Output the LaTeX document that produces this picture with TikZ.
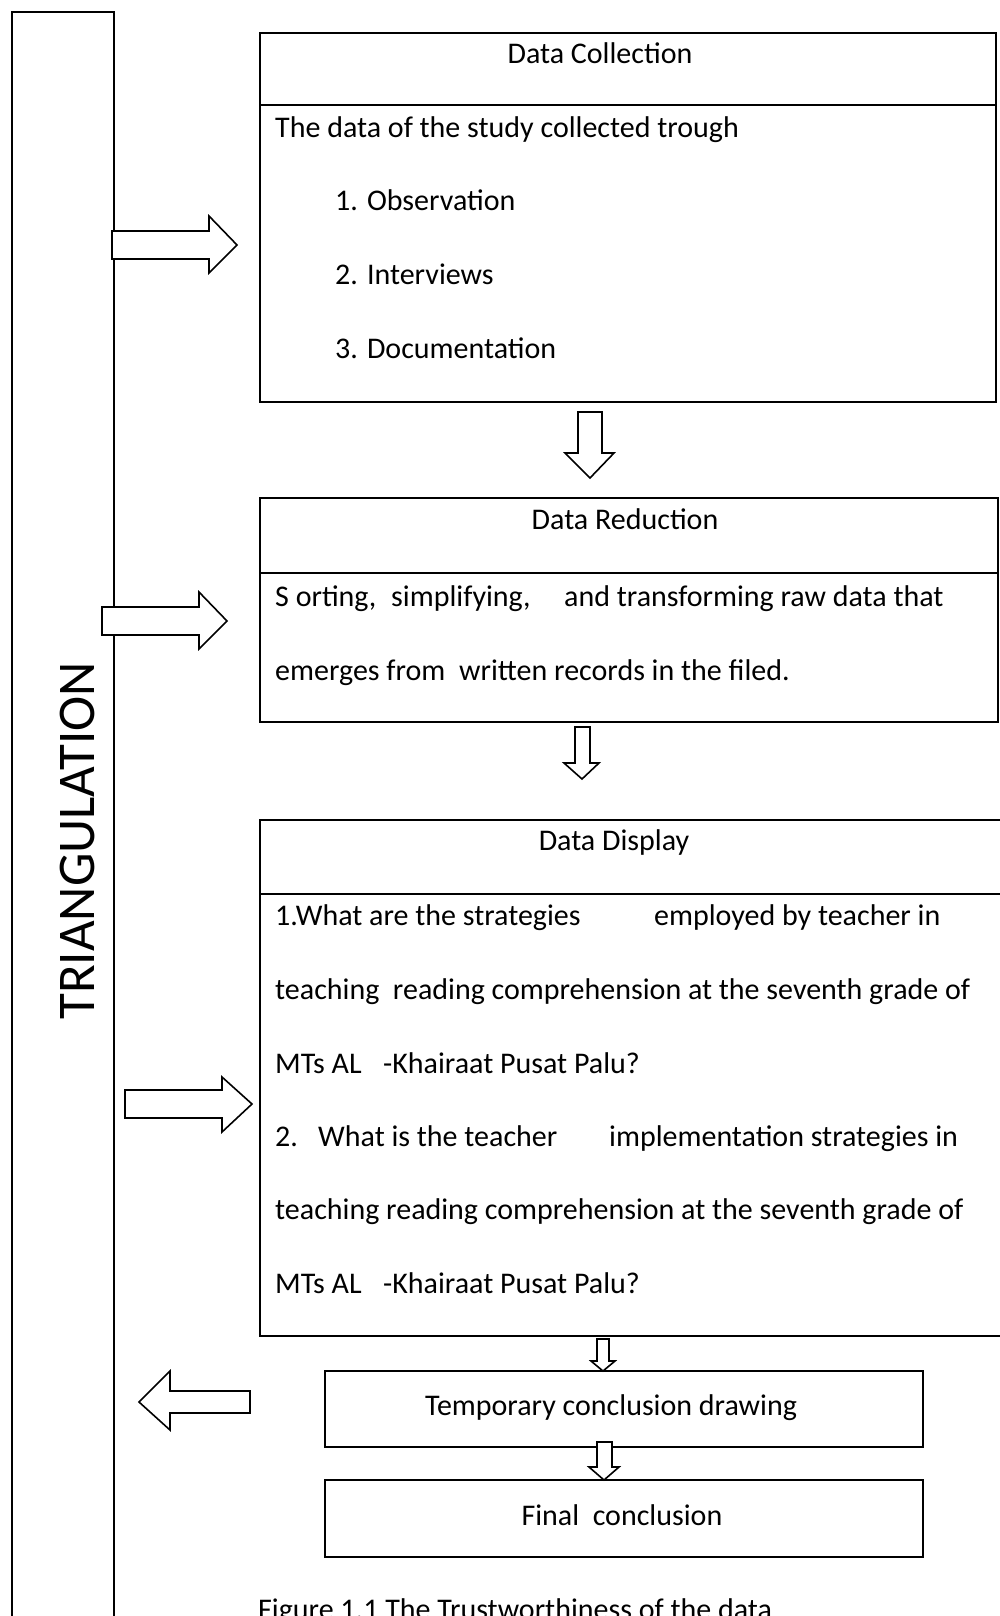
\documentclass[tikz,border=0pt]{standalone}
\usepackage{fontspec}
\setmainfont{Carlito}
\begin{document}
\begin{tikzpicture}[x=1pt,y=-1pt,
  box/.style={draw=black,line width=2pt},
  barrow/.style={draw=black,fill=white,line width=1.6pt,line join=miter},
  txt/.style={inner sep=0pt,anchor=mid west,font=\fontsize{30}{36}\selectfont},
  ctxt/.style={inner sep=0pt,anchor=mid,font=\fontsize{30}{36}\selectfont}]
\useasboundingbox (0,0) rectangle (1000,1616);
\fill[white] (0,0) rectangle (1000,1616);
% triangulation column
\draw[box] (12,1640) -- (12,12) -- (114,12) -- (114,1640);
\node[inner sep=0pt,rotate=90,font=\fontsize{53}{60}\selectfont] (tri) at (77,841) {TRIANGULATION};
% Data collection
\draw[box] (260,33) rectangle (996,402);
\draw[box] (260,105) -- (996,105);
\node[ctxt] (dc) at (600,61) {Data Collection};
\node[txt] (dc1) at (275,135) {The data of the study collected trough};
\node[txt] (dc2) at (335,208) {1. Observation};
\node[txt] (dc3) at (335,282) {2. Interviews};
\node[txt] (dc4) at (335,356) {3. Documentation};
% Data reduction
\draw[box] (260,498) rectangle (998,722);
\draw[box] (260,573) -- (998,573);
\node[ctxt] (dr) at (625,527) {Data Reduction};
\node[txt] (dr1a) at (275,604) {S orting,};
\node[txt] (dr1b) at (391,604) {simplifying,};
\node[txt] (dr1c) at (564,604) {and transforming raw data that};
\node[txt] (dr2a) at (275,678) {emerges from};
\node[txt] (dr2b) at (459,678) {written records in the filed.};
% Data display
\draw[box] (260,820) rectangle (1004,1336);
\draw[box] (260,894) -- (1004,894);
\node[ctxt] (dd) at (614,848) {Data Display};
\node[txt] (dd1a) at (275,923) {1.What are the strategies};
\node[txt] (dd1b) at (654,923) {employed by teacher in};
\node[txt] (dd2) at (275,997) {teaching\ \ reading comprehension at the seventh grade of};
\node[txt] (dd3a) at (275,1071) {MTs AL};
\node[txt] (dd3b) at (383,1071) {-Khairaat Pusat Palu?};
\node[txt] (dd4a) at (275,1144) {2.};
\node[txt] (dd4b) at (318,1144) {What is the teacher};
\node[txt] (dd4c) at (609,1144) {implementation strategies in};
\node[txt] (dd5) at (275,1217) {teaching reading comprehension at the seventh grade of};
\node[txt] (dd6a) at (275,1291) {MTs AL};
\node[txt] (dd6b) at (383,1291) {-Khairaat Pusat Palu?};
% Conclusions
\draw[box] (325,1371) rectangle (923,1447);
\node[ctxt] (tc) at (611,1413) {Temporary conclusion drawing};
\draw[box] (325,1480) rectangle (923,1557);
\node[ctxt] (fc) at (622,1523) {Final\ \ conclusion};
\node[txt] (cap) at (258,1617) {Figure 1.1 The Trustworthiness of the data};
% block arrows right
\draw[barrow] (112,231) -- (209,231) -- (209,216) -- (237,245) -- (209,273) -- (209,259) -- (112,259) -- cycle;
\draw[barrow] (102,607) -- (199,607) -- (199,592) -- (227,621) -- (199,649) -- (199,635) -- (102,635) -- cycle;
\draw[barrow] (125,1090) -- (222,1090) -- (222,1077) -- (252,1104) -- (222,1132) -- (222,1118) -- (125,1118) -- cycle;
% left arrow
\draw[barrow] (250,1391) -- (170,1391) -- (170,1371) -- (139,1402) -- (170,1430) -- (170,1413) -- (250,1413) -- cycle;
% down arrows
\draw[barrow] (578,412) -- (602,412) -- (602,453) -- (614,453) -- (590,478) -- (565,453) -- (578,453) -- cycle;
\draw[barrow] (575,727) -- (590,727) -- (590,763) -- (599,763) -- (582,779) -- (564,763) -- (575,763) -- cycle;
\draw[barrow] (597,1339) -- (609,1339) -- (609,1361) -- (615,1361) -- (603,1371) -- (591,1361) -- (597,1361) -- cycle;
\draw[barrow] (597,1442) -- (612,1442) -- (612,1467) -- (619,1467) -- (604,1480) -- (589,1467) -- (597,1467) -- cycle;
\end{tikzpicture}
\end{document}
